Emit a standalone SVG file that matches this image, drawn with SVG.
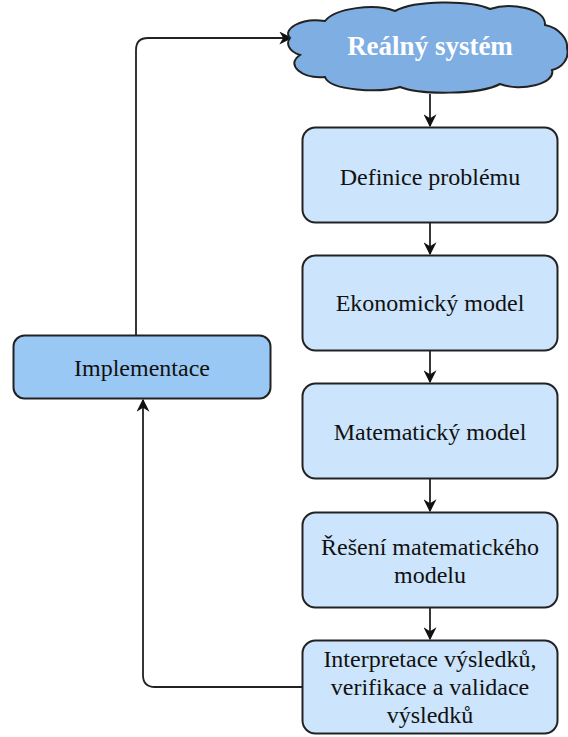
<svg xmlns="http://www.w3.org/2000/svg" width="568" height="737" viewBox="0 0 568 737">
<defs>
<style>
.box{fill:#cce5fc;stroke:#222;stroke-width:2}
.impl{fill:#99c8f5;stroke:#222;stroke-width:2}
.cloud{fill:#7eaee2;stroke:#222;stroke-width:2}
.t{font-family:"Liberation Serif","Times New Roman",serif;font-size:24px;fill:#111;text-anchor:middle}
.ct{font-family:"Liberation Serif","Times New Roman",serif;font-size:27px;font-weight:bold;fill:#fff;text-anchor:middle}
.c{fill:none;stroke:#222;stroke-width:1.8}
</style>
<marker id="ah" viewBox="0 0 10 10" refX="9" refY="5" markerWidth="13" markerHeight="13" markerUnits="userSpaceOnUse" orient="auto">
<path d="M0,0 L10,5 L0,10 L3,5 Z" fill="#111"/>
</marker>
</defs>
<g id="connectors">
<path class="c" d="M136,335 V50 Q136,38 148,38 H291" marker-end="url(#ah)"/>
<path class="c" d="M430,94 V126" marker-end="url(#ah)"/>
<path class="c" d="M430,222 V254" marker-end="url(#ah)"/>
<path class="c" d="M430,350 V382" marker-end="url(#ah)"/>
<path class="c" d="M430,478 V511" marker-end="url(#ah)"/>
<path class="c" d="M430,607 V639" marker-end="url(#ah)"/>
<path class="c" d="M302,687 H155 Q143,687 143,675 V400" marker-end="url(#ah)"/>
</g>
<g id="realny-system">
<path class="cloud" d="M290,38 C282,30 300,17 325,21 C335,8 375,3 395,11 C415,0 470,0 490,9 C510,2 546,8 545,25 C560,28 568,40 567,48 C570,58 562,68 552,70 C556,84 520,92 500,84 C480,95 420,95 400,87 C380,93 330,91 325,77 C302,79 285,65 300,55 C288,51 286,43 290,38 Z"/>
<text class="ct" x="430" y="55">Reálný systém</text>
</g>
<g id="definice">
<rect class="box" x="302.5" y="127.5" width="255" height="95" rx="13"/>
<text class="t" x="430" y="185">Definice problému</text>
</g>
<g id="ekonomicky">
<rect class="box" x="302.5" y="255.5" width="255" height="95" rx="13"/>
<text class="t" x="430" y="311">Ekonomický model</text>
</g>
<g id="matematicky">
<rect class="box" x="302.5" y="383.5" width="255" height="95" rx="13"/>
<text class="t" x="430" y="440">Matematický model</text>
</g>
<g id="reseni">
<rect class="box" x="302.5" y="512.5" width="255" height="95" rx="13"/>
<text class="t" x="430" y="555">Řešení matematického</text>
<text class="t" x="430" y="583">modelu</text>
</g>
<g id="interpretace">
<rect class="box" x="302.5" y="640.5" width="255" height="93" rx="13"/>
<text class="t" x="430" y="667">Interpretace výsledků,</text>
<text class="t" x="430" y="695">verifikace a validace</text>
<text class="t" x="430" y="723">výsledků</text>
</g>
<g id="implementace">
<rect class="impl" x="13.5" y="335.5" width="257" height="63" rx="11"/>
<text class="t" x="142" y="376">Implementace</text>
</g>
</svg>
